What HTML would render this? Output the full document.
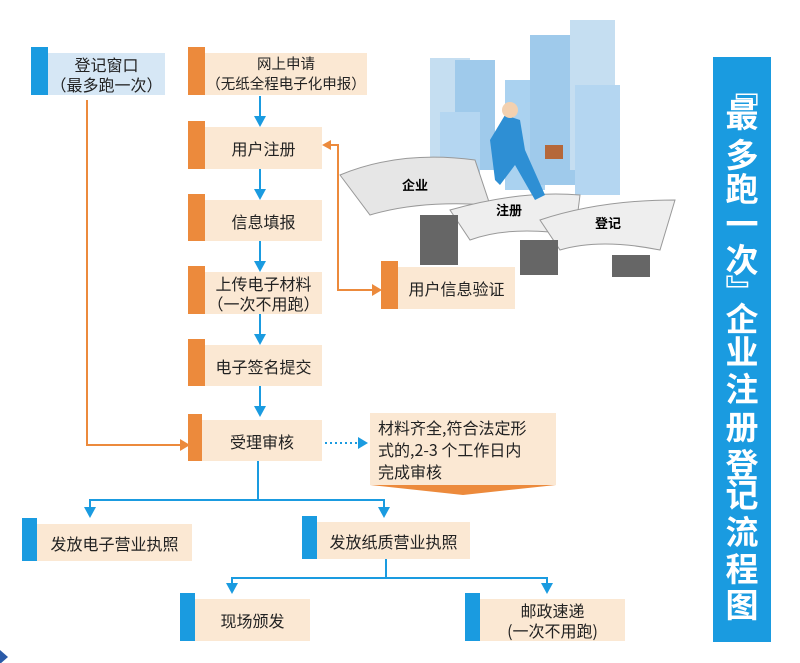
<!DOCTYPE html>
<html><head><meta charset="utf-8"><style>
body{margin:0;width:800px;height:663px;background:#fff;position:relative;overflow:hidden;font-family:"Liberation Sans","Noto Sans CJK SC",sans-serif;}
.b{position:absolute;background:#fbe8d3;color:#222;font-size:16px;text-align:center;display:flex;flex-direction:column;justify-content:center;line-height:20px;font-family:"Noto Sans CJK SC",sans-serif;white-space:nowrap;}
.bar{position:absolute;}
.o{background:#ec8a3c}.u{background:#1a9be0}
svg{position:absolute;left:0;top:0}
.title{position:absolute;left:713px;top:57px;width:58px;height:585px;background:#1a9be0;}
.c{position:absolute;left:0;width:58px;text-align:center;color:#fff;font-weight:bold;font-size:33px;line-height:36px;height:36px;font-family:"Noto Sans CJK SC",sans-serif;}
</style></head><body>
<svg width="800" height="663">
<g opacity="0.85">
<rect x="430" y="58" width="40" height="110" fill="#bcd9ef"/>
<rect x="455" y="60" width="40" height="110" fill="#8fc1e8"/>
<rect x="505" y="80" width="40" height="110" fill="#9ccbee"/>
<rect x="530" y="35" width="55" height="150" fill="#8fc1e8"/>
<rect x="570" y="20" width="45" height="150" fill="#bcd9ef"/>
<rect x="575" y="85" width="45" height="110" fill="#a7d0ef"/>
<rect x="440" y="112" width="40" height="80" fill="#a7d0ef"/>
</g>
<path d="M340 175 Q400 150 475 160 L490 205 Q420 200 370 215 Z" fill="#e6e6e6" stroke="#999"/>
<path d="M450 210 Q520 190 580 195 L575 235 Q510 225 470 240 Z" fill="#eeeeee" stroke="#999"/>
<path d="M540 220 Q600 200 675 200 L660 250 Q600 238 560 250 Z" fill="#eeeeee" stroke="#999"/>
<text x="402" y="190" font-size="13" font-weight="bold" font-family="Noto Sans CJK SC">企业</text>
<text x="496" y="215" font-size="13" font-weight="bold" font-family="Noto Sans CJK SC">注册</text>
<text x="595" y="228" font-size="13" font-weight="bold" font-family="Noto Sans CJK SC">登记</text>
<rect x="420" y="215" width="38" height="50" fill="#666"/>
<rect x="520" y="240" width="38" height="35" fill="#666"/>
<rect x="612" y="255" width="38" height="22" fill="#666"/>
<path d="M490 140 L505 115 L520 120 L525 150 L545 195 L535 200 L515 165 L500 185 L495 180 Z" fill="#2e8fd4"/>
<circle cx="510" cy="110" r="8" fill="#f3d1b0"/>
<rect x="545" y="145" width="18" height="14" fill="#b5683a"/>
<g stroke="#ec8a3c" stroke-width="2" fill="none">
<polyline points="87,100 87,445 180,445"/>
<polyline points="329,145 338,145 338,290 373,290"/>
</g>
<polygon points="190,445 180,439 180,451" fill="#ec8a3c"/>
<polygon points="322,145 331,140 331,150" fill="#ec8a3c"/>
<polygon points="382,290 372,284 372,296" fill="#ec8a3c"/>
<g stroke="#1a9be0" stroke-width="2" fill="none">
<line x1="260" y1="96" x2="260" y2="117"/>
<line x1="260" y1="169" x2="260" y2="190"/>
<line x1="260" y1="241" x2="260" y2="262"/>
<line x1="260" y1="314" x2="260" y2="335"/>
<line x1="260" y1="386" x2="260" y2="407"/>
<polyline points="258,461 258,500 90,500 90,508"/>
<polyline points="258,500 384,500 384,508"/>
<polyline points="386,559 386,578 232,578 232,584"/>
<polyline points="386,578 547,578 547,584"/>
<line x1="325" y1="443" x2="358" y2="443" stroke-dasharray="2,3"/>
</g>
<g fill="#1a9be0">
<polygon points="254,116 266,116 260,127"/>
<polygon points="254,189 266,189 260,200"/>
<polygon points="254,261 266,261 260,272"/>
<polygon points="254,334 266,334 260,345"/>
<polygon points="254,406 266,406 260,417"/>
<polygon points="84,507 96,507 90,518"/>
<polygon points="378,507 390,507 384,518"/>
<polygon points="226,583 238,583 232,594"/>
<polygon points="541,583 553,583 547,594"/>
<polygon points="358,437 358,449 368,443"/>
</g>
<polygon points="0,650 8,657 0,664" fill="#2a5aa8"/>
<polygon points="370,485 556,485 463,495" fill="#ec8a3c"/>
</svg>

<div class="bar u" style="left:31px;top:47px;width:17px;height:48px"></div>
<div class="b" style="left:48px;top:53px;width:117px;height:42px;background:#d6e7f5">登记窗口<br>（最多跑一次）</div>

<div class="bar o" style="left:188px;top:47px;width:17px;height:48px"></div>
<div class="b" style="left:205px;top:53px;width:162px;height:42px;font-size:14.5px">网上申请<br>（无纸全程电子化申报）</div>

<div class="bar o" style="left:188px;top:121px;width:17px;height:48px"></div>
<div class="b" style="left:205px;top:127px;width:117px;height:42px">用户注册</div>

<div class="bar o" style="left:188px;top:194px;width:17px;height:47px"></div>
<div class="b" style="left:205px;top:200px;width:117px;height:41px">信息填报</div>

<div class="bar o" style="left:188px;top:266px;width:17px;height:48px"></div>
<div class="b" style="left:205px;top:272px;width:117px;height:42px">上传电子材料<br>（一次不用跑）</div>

<div class="bar o" style="left:188px;top:339px;width:17px;height:47px"></div>
<div class="b" style="left:205px;top:345px;width:117px;height:41px">电子签名提交</div>

<div class="bar o" style="left:188px;top:414px;width:14px;height:47px"></div>
<div class="b" style="left:202px;top:420px;width:120px;height:41px">受理审核</div>

<div class="b" style="left:370px;top:413px;width:186px;height:72px;text-align:left;padding-left:8px;box-sizing:border-box;line-height:22px;font-size:16px">材料齐全,符合法定形<br>式的,2-3 个工作日内<br>完成审核</div>

<div class="bar o" style="left:381px;top:261px;width:17px;height:48px"></div>
<div class="b" style="left:398px;top:267px;width:117px;height:42px">用户信息验证</div>

<div class="bar u" style="left:22px;top:518px;width:15px;height:43px"></div>
<div class="b" style="left:37px;top:524px;width:155px;height:37px">发放电子营业执照</div>

<div class="bar u" style="left:302px;top:516px;width:15px;height:43px"></div>
<div class="b" style="left:317px;top:522px;width:153px;height:37px">发放纸质营业执照</div>

<div class="bar u" style="left:180px;top:593px;width:15px;height:48px"></div>
<div class="b" style="left:195px;top:599px;width:115px;height:42px">现场颁发</div>

<div class="bar u" style="left:465px;top:593px;width:15px;height:48px"></div>
<div class="b" style="left:480px;top:599px;width:145px;height:42px">邮政速递<br>(一次不用跑)</div>

<div class="title">
<div class="c" style="top:13px">﹃</div>
<div class="c" style="top:38px">最</div>
<div class="c" style="top:78px">多</div>
<div class="c" style="top:112px">跑</div>
<div class="c" style="top:147px">一</div>
<div class="c" style="top:183px">次</div>
<div class="c" style="top:215px">﹄</div>
<div class="c" style="top:242px">企</div>
<div class="c" style="top:275px">业</div>
<div class="c" style="top:312px">注</div>
<div class="c" style="top:350px">册</div>
<div class="c" style="top:388px">登</div>
<div class="c" style="top:418px">记</div>
<div class="c" style="top:455px">流</div>
<div class="c" style="top:492px">程</div>
<div class="c" style="top:528px">图</div>
</div>
</body></html>
